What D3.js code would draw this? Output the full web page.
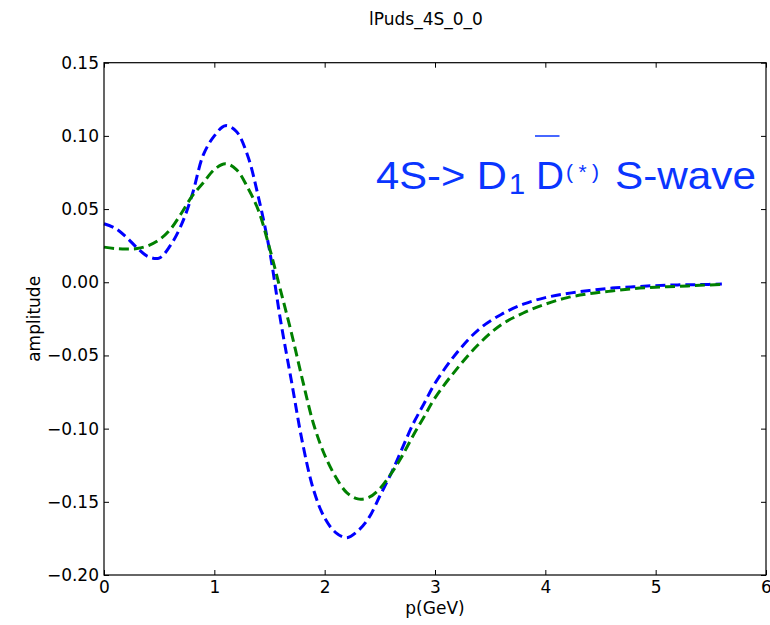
<!DOCTYPE html>
<html>
<head>
<meta charset="utf-8">
<script src="https://cdn.jsdelivr.net/npm/d3@7"></script>
<style>
  body { margin: 0; background: #fff; }
  text { font-family: "DejaVu Sans", sans-serif; }
</style>
</head>
<body>
<svg id="chart" width="770" height="625"></svg>
<script>
// momentum grid (GeV) and the two amplitude curves
var pGeV = [0, 0.1, 0.2, 0.3, 0.4, 0.5, 0.6, 0.7, 0.8, 0.9,
            1.0, 1.1, 1.2, 1.3, 1.4, 1.5, 1.6, 1.7, 1.8, 1.9,
            2.0, 2.1, 2.2, 2.3, 2.4, 2.5, 2.6, 2.7, 2.8, 2.9, 3.0,
            3.2, 3.4, 3.6, 3.8, 4.0, 4.2, 4.4, 4.6, 4.8, 5.0, 5.2, 5.4, 5.6]

var blueAmp = [0.040, 0.037, 0.031, 0.0235, 0.0175, 0.0165, 0.025, 0.039, 0.060, 0.087,
               0.100, 0.107, 0.103, 0.087, 0.058, 0.022, -0.026, -0.068, -0.110, -0.142,
               -0.161, -0.171, -0.1745, -0.170, -0.161, -0.146, -0.131, -0.114, -0.097, -0.083, -0.069,
               -0.048, -0.032, -0.022, -0.015, -0.0105, -0.0077, -0.0056, -0.004, -0.0031, -0.0023, -0.0018, -0.0016, -0.0012]

var greenAmp = [0.024, 0.023, 0.0227, 0.023, 0.025, 0.029, 0.036, 0.047, 0.059, 0.068,
                0.077, 0.081, 0.077, 0.065, 0.049, 0.0235, -0.0055, -0.035, -0.067, -0.097,
                -0.118, -0.133, -0.1437, -0.148, -0.147, -0.141, -0.131, -0.119, -0.105, -0.092, -0.079,
                -0.059, -0.042, -0.029, -0.021, -0.015, -0.0105, -0.0078, -0.006, -0.0044, -0.0034, -0.0028, -0.0021, -0.0015]

var xTicks = [0, 1, 2, 3, 4, 5, 6]
var yTicks = [-0.20, -0.15, -0.10, -0.05, 0.00, 0.05, 0.10, 0.15]

var svg = d3.select("#chart")
var mLeft = 104, mTop = 62.7, plotW = 662, plotH = 512.3

var x = d3.scaleLinear().domain([0, 6]).range([mLeft, mLeft + plotW])
var y = d3.scaleLinear().domain([-0.20, 0.15]).range([mTop + plotH, mTop])

function styleAxis(g){
    g.select(".domain").remove()
    g.selectAll(".tick line").attr("stroke", "#000").attr("stroke-width", 1)
    g.selectAll(".tick text").attr("fill", "#000")
        .style("font-family", "DejaVu Sans").style("font-size", "17px")
}

// axes with inward ticks on all four sides
svg.append("g")
    .attr("transform", "translate(" + mLeft + ",0)")
    .call(d3.axisLeft(y).tickValues(yTicks).tickFormat(d3.format(".2f"))
        .tickSizeInner(-5).tickSizeOuter(0).tickPadding(5))
    .call(styleAxis)

svg.append("g")
    .attr("transform", "translate(" + (mLeft + plotW) + ",0)")
    .call(d3.axisRight(y).tickValues(yTicks).tickFormat("")
        .tickSizeInner(-5).tickSizeOuter(0))
    .call(styleAxis)

svg.append("g")
    .attr("transform", "translate(0," + (mTop + plotH) + ")")
    .call(d3.axisBottom(x).tickValues(xTicks).tickFormat(d3.format("d"))
        .tickSizeInner(-5).tickSizeOuter(0).tickPadding(6))
    .call(styleAxis)

svg.append("g")
    .attr("transform", "translate(0," + mTop + ")")
    .call(d3.axisTop(x).tickValues(xTicks).tickFormat("")
        .tickSizeInner(-5).tickSizeOuter(0))
    .call(styleAxis)

var line = d3.line()
    .x(function(d, i){ return x(pGeV[i]) })
    .y(function(d){ return y(d) })
    .curve(d3.curveCatmullRom)

svg.append("path")
    .datum(blueAmp)
    .attr("d", line)
    .attr("fill", "none")
    .attr("stroke", "#0000ff")
    .attr("stroke-width", 3)
    .attr("stroke-dasharray", "10,5")

svg.append("path")
    .datum(greenAmp)
    .attr("d", line)
    .attr("fill", "none")
    .attr("stroke", "#008000")
    .attr("stroke-width", 3)
    .attr("stroke-dasharray", "10,5")

// frame
svg.append("rect")
    .attr("x", mLeft).attr("y", mTop)
    .attr("width", plotW).attr("height", plotH)
    .attr("fill", "none").attr("stroke", "#000").attr("stroke-width", 1.2)

// title and axis labels
svg.append("text")
    .attr("x", 426).attr("y", 25)
    .attr("text-anchor", "middle")
    .style("font-size", "17px")
    .text("lPuds_4S_0_0")

svg.append("text")
    .attr("x", mLeft + plotW / 2).attr("y", 614)
    .attr("text-anchor", "middle")
    .style("font-size", "17px")
    .text("p(GeV)")

svg.append("text")
    .attr("transform", "translate(40," + (mTop + plotH / 2) + ") rotate(-90)")
    .attr("text-anchor", "middle")
    .style("font-size", "17px")
    .text("amplitude")

// annotation: 4S-> D1 Dbar(*) S-wave
var noteColor = "#0a35ff"
var note = svg.append("g").attr("fill", noteColor)
note.append("text").attr("x", 376).attr("y", 188.5)
    .attr("textLength", 131).attr("lengthAdjust", "spacingAndGlyphs")
    .style("font-family", "Liberation Sans").style("font-size", "39px").text("4S-> D")
note.append("text").attr("x", 509).attr("y", 194.3)
    .style("font-family", "Liberation Sans").style("font-size", "29px").text("1")
note.append("text").attr("x", 536).attr("y", 188.5)
    .attr("textLength", 28).attr("lengthAdjust", "spacingAndGlyphs")
    .style("font-family", "Liberation Sans").style("font-size", "39px").text("D")
note.append("text").attr("x", 566).attr("y", 179)
    .attr("textLength", 33).attr("lengthAdjust", "spacing")
    .style("font-family", "Liberation Sans").style("font-size", "21px").text("(*)")
note.append("text").attr("x", 615).attr("y", 188.5)
    .attr("textLength", 141).attr("lengthAdjust", "spacingAndGlyphs")
    .style("font-family", "Liberation Sans").style("font-size", "39px").text("S-wave")
note.append("line")
    .attr("x1", 535).attr("x2", 559.5).attr("y1", 136).attr("y2", 136)
    .attr("stroke", noteColor).attr("stroke-width", 1.5)
</script>
</body>
</html>
